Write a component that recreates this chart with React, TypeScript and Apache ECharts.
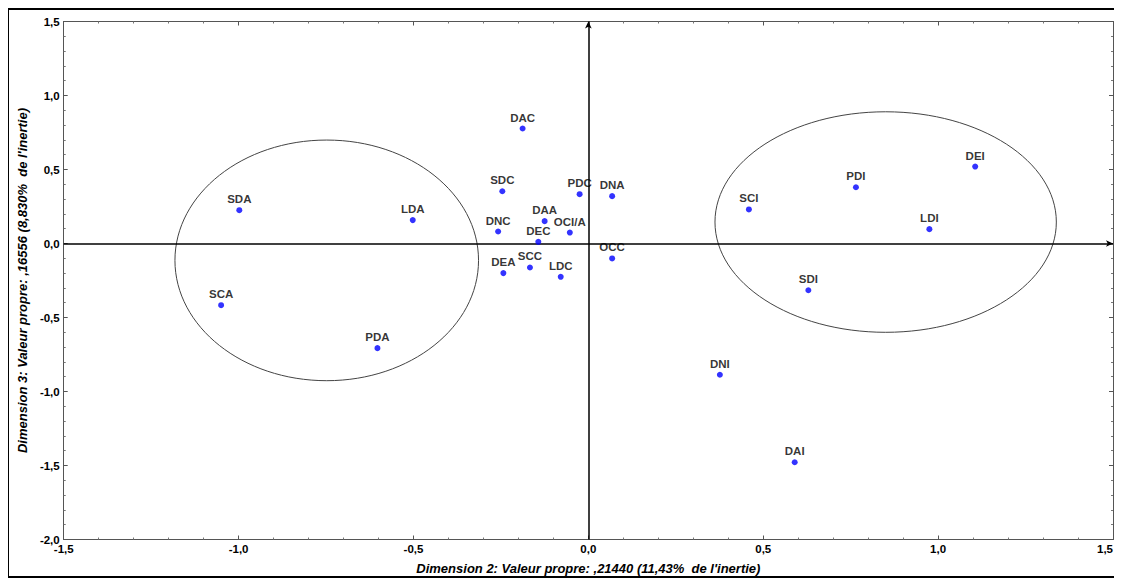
import React, { useEffect, useRef } from "react";
import * as echarts from "echarts";

const pointLabels = [
  "DAC", "SDC", "PDC", "DNA", "DAA", "OCI/A", "DNC", "DEC", "OCC", "SCC", "DEA", "LDC",
  "SDA", "LDA", "SCA", "PDA",
  "DEI", "PDI", "SCI", "LDI", "SDI", "DNI", "DAI",
];
const dim2Values = [
  -0.188, -0.246, -0.025, 0.068, -0.125, -0.053, -0.258, -0.143, 0.068, -0.167, -0.243, -0.079,
  -0.998, -0.502, -1.05, -0.603,
  1.106, 0.765, 0.459, 0.975, 0.629, 0.376, 0.59,
];
const dim3Values = [
  0.777, 0.353, 0.333, 0.32, 0.151, 0.074, 0.081, 0.011, -0.101, -0.162, -0.2, -0.225,
  0.225, 0.158, -0.417, -0.707,
  0.52, 0.38, 0.23, 0.097, -0.316, -0.887, -1.478,
];
// ellipses: [centerX, centerY, radiusX, radiusY]
const leftEllipse = [-0.748, -0.114, 0.434, 0.813];
const rightEllipse = [0.85, 0.145, 0.488, 0.745];

const xAxisTitle = "Dimension 2: Valeur propre: ,21440 (11,43%  de l'inertie)";
const yAxisTitle = "Dimension 3: Valeur propre: ,16556 (8,830%  de l'inertie)";

const fmt = (v: number) => v.toFixed(1).replace(".", ",");
const FONT = "'Liberation Sans', Arial, sans-serif";

export default function App() {
  const ref = useRef<HTMLDivElement>(null);
  useEffect(() => {
    if (!ref.current) return;
    const chart = echarts.init(ref.current, undefined, { renderer: "svg" });
    const axisLine = { show: true, onZero: false, lineStyle: { color: "#555", width: 1 } };
    const axisTick = { show: true, inside: true, length: 4, lineStyle: { color: "#555" } };
    const minorTick = { show: true, splitNumber: 5, length: 2, lineStyle: { color: "#777" } };
    const labelStyle = {
      fontFamily: FONT,
      fontWeight: "bold" as const,
      fontSize: 11.5,
      color: "#000",
      formatter: fmt,
    };
    const nameStyle = {
      fontFamily: FONT,
      fontWeight: "bold" as const,
      fontStyle: "italic" as const,
      fontSize: 13,
      color: "#000",
    };
    chart.setOption({
      animation: false,
      backgroundColor: "#fff",
      grid: { left: 52, top: 13.5, right: 9, bottom: 41.5, containLabel: false },
      xAxis: [
        {
          type: "value", min: -1.5, max: 1.5, interval: 0.5, position: "bottom",
          axisLine, axisTick, minorTick, splitLine: { show: false },
          axisLabel: { ...labelStyle, margin: 3, alignMaxLabel: "right" },
          name: xAxisTitle, nameLocation: "middle", nameGap: 22, nameTextStyle: nameStyle,
        },
        {
          type: "value", min: -1.5, max: 1.5, interval: 0.5, position: "top",
          axisLine, axisTick, minorTick, splitLine: { show: false },
          axisLabel: { show: false },
        },
      ],
      yAxis: [
        {
          type: "value", min: -2, max: 1.5, interval: 0.5, position: "left",
          axisLine, axisTick, minorTick, splitLine: { show: false },
          axisLabel: { ...labelStyle, margin: 4 },
          name: yAxisTitle, nameLocation: "middle", nameGap: 29, nameTextStyle: nameStyle,
        },
        {
          type: "value", min: -2, max: 1.5, interval: 0.5, position: "right",
          axisLine, axisTick, minorTick, splitLine: { show: false },
          axisLabel: { show: false },
        },
      ],
      graphic: [
        {
          type: "rect",
          shape: { x: 0, y: 1, width: 1130, height: 568 },
          style: { fill: "none", stroke: "#000", lineWidth: 2 },
          silent: true,
        },
      ],
      series: [
        {
          type: "custom",
          coordinateSystem: "cartesian2d",
          xAxisIndex: 0,
          yAxisIndex: 0,
          silent: true,
          data: [leftEllipse, rightEllipse],
          encode: { x: 0, y: 1 },
          z: 1,
          renderItem: (params: any, api: any) => {
            const c = api.coord([api.value(0), api.value(1)]);
            const s = api.size([api.value(2), api.value(3)]);
            return {
              type: "ellipse",
              shape: { cx: c[0], cy: c[1], rx: s[0], ry: s[1] },
              style: { fill: "none", stroke: "#444", lineWidth: 1 },
            };
          },
        },
        {
          type: "scatter",
          xAxisIndex: 0,
          yAxisIndex: 0,
          symbol: "circle",
          symbolSize: 6,
          itemStyle: { color: "#0000ff" },
          z: 3,
          label: {
            show: true,
            position: "top",
            distance: 2,
            formatter: (p: any) => p.name,
            fontFamily: FONT,
            fontWeight: "bold",
            fontSize: 11.5,
            color: "#000",
          },
          data: pointLabels.map((name, i) => ({ name, value: [dim2Values[i], dim3Values[i]] })),
          markLine: {
            silent: true,
            symbol: ["none", "arrow"],
            symbolSize: [5, 7],
            label: { show: false },
            lineStyle: { color: "#000", width: 1.5, type: "solid" },
            data: [{ xAxis: 0 }, { yAxis: 0 }],
            z: 2,
          },
        },
      ],
    });
    return () => chart.dispose();
  }, []);
  return <div ref={ref} style={{ width: 1114, height: 573 }} />;
}
